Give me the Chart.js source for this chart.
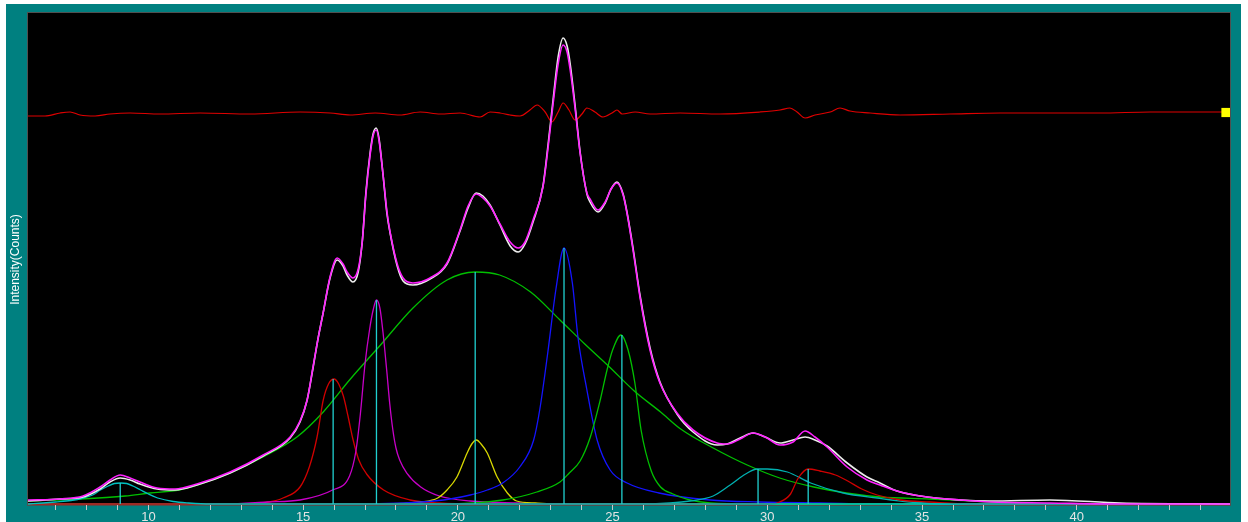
<!DOCTYPE html>
<html><head><meta charset="utf-8">
<script src="https://cdn.jsdelivr.net/npm/chart.js@4.4.1/dist/chart.umd.min.js"></script>
<style>html,body{margin:0;padding:0;background:#fff;overflow:hidden}#wrap{position:relative;width:1248px;height:522px}</style>
</head><body><div id="wrap"><canvas id="c" width="1248" height="522"></canvas></div>
<script>
// ---- axis range ----
const xRange = [6.11, 44.95];
const yRange = [-1, 491];
const xTickStep = 1;

// ---- observed / fit (2-theta vs intensity) ----
const totX = [6.11, 7.15, 7.89, 8.44, 8.76, 9.09, 9.41, 9.73, 10.28, 10.86, 11.57, 12.64, 13.71, 14.58, 14.90, 15.13, 15.32, 15.48, 15.64, 15.87, 16.10, 16.29, 16.42, 16.61, 16.78, 16.91, 17.03, 17.16, 17.26, 17.36, 17.45, 17.58, 17.71, 17.81, 18.04, 18.23, 18.55, 19.10, 19.65, 20.07, 20.33, 20.59, 20.81, 21.04, 21.36, 21.69, 21.95, 22.17, 22.43, 22.75, 22.91, 23.08, 23.24, 23.40, 23.53, 23.63, 23.79, 23.95, 24.17, 24.27, 24.53, 24.76, 24.95, 25.14, 25.34, 25.47, 25.66, 25.89, 26.21, 26.53, 27.08, 27.60, 28.38, 28.70, 29.12, 29.54, 29.93, 30.41, 30.83, 31.22, 31.54, 31.93, 32.58, 33.22, 33.64, 34.19, 35.16, 36.23, 37.20, 39.13, 41.40, 44.95];
const fitY = [4, 5, 8, 17, 24, 29, 26, 22, 16, 15, 20, 32, 49, 67, 83, 104, 137, 165, 190, 227, 246, 240, 232, 226, 235, 262, 310, 348, 368, 374, 364, 330, 292, 272, 240, 226, 221, 226, 241, 274, 298, 310, 306, 298, 280, 262, 256, 262, 284, 317, 355, 401, 440, 459, 452, 434, 395, 351, 311, 305, 294, 302, 315, 321, 309, 290, 254, 206, 154, 121, 91, 74, 61, 60, 65, 71, 67, 59, 62, 73, 67, 57, 37, 24, 19, 13, 7, 4, 2, 1, 0, 0];
const obsY = [3, 5, 7, 15, 22, 26, 24, 20, 15, 14, 19, 31, 48, 66, 82, 104, 136, 165, 190, 226, 244, 238, 229, 222, 232, 262, 312, 350, 370, 376, 366, 330, 290, 271, 238, 223, 219, 225, 240, 273, 296, 311, 308, 299, 279, 258, 252, 260, 282, 318, 358, 405, 447, 466, 458, 440, 398, 352, 310, 302, 292, 301, 315, 322, 310, 291, 256, 208, 156, 122, 90, 72, 59, 60, 66, 71, 67, 61, 64, 67, 64, 58, 41, 27, 21, 13, 7, 4, 3, 4, 1, 0];

// ---- residual (offset) ----
const resX = [6.11, 6.66, 7.15, 7.47, 7.79, 8.28, 8.76, 9.41, 10.38, 11.67, 13.29, 14.90, 15.87, 16.52, 17.33, 18.13, 18.78, 19.43, 20.07, 20.72, 21.04, 21.36, 21.69, 22.01, 22.33, 22.56, 22.82, 23.04, 23.24, 23.40, 23.59, 23.79, 24.01, 24.17, 24.43, 24.69, 24.98, 25.14, 25.31, 25.73, 26.21, 27.18, 28.47, 29.76, 30.41, 30.73, 30.96, 31.22, 31.54, 32.03, 32.35, 32.67, 33.32, 34.29, 35.90, 37.52, 40.75, 42.37, 43.98, 44.95];
const resY = [388, 388, 391, 392, 389, 388, 390, 391, 390, 391, 390, 392, 391, 389, 391, 389, 392, 390, 391, 387, 392, 391, 389, 388, 394, 399, 392, 382, 392, 401, 394, 384, 390, 396, 392, 387, 391, 394, 390, 392, 390, 391, 390, 392, 394, 396, 392, 386, 389, 392, 396, 393, 391, 389, 390, 391, 391, 392, 392, 392];
const markerPt = [44.82, 391.5];

// ---- fitted components ----
const c1X = [6.11, 6.6, 7.0, 7.5, 7.9, 8.2, 8.45, 8.7, 8.9, 9.1, 9.3, 9.5, 9.75, 10.0, 10.3, 10.8, 11.3, 12.0, 44.95];
const c1Y = [0, 1, 2, 3.5, 6, 9, 14, 18, 20.5, 21, 20.5, 18, 14, 10, 6, 2.5, 1, 0, 0];
const red1X = [6.11, 13.0, 13.9, 14.35, 14.9, 15.2, 15.45, 15.65, 15.82, 16.0, 16.15, 16.3, 16.45, 16.6, 16.8, 17.05, 17.6, 18.45, 19.4, 20.5, 44.95];
const red1Y = [0, 0, 2, 6, 17, 37, 67, 104, 120, 125, 120, 108, 88, 66, 44, 30, 14, 4, 1, 0, 0];
const magX = [6.11, 12.5, 13.85, 14.9, 15.95, 16.5, 16.7, 16.85, 17.0, 17.15, 17.27, 17.37, 17.48, 17.58, 17.7, 17.8, 17.9, 18.0, 18.12, 18.35, 18.8, 19.4, 20.4, 22.0, 23.0, 44.95];
const magY = [0, 0, 2, 4, 14, 28, 52, 90, 140, 175, 195, 204, 196, 172, 134, 100, 74, 56, 44, 31, 17, 8, 3, 1, 0, 0];
const broadX = [6.11, 7.8, 9.25, 10.05, 11.0, 11.7, 12.65, 13.7, 14.8, 15.65, 16.5, 17.5, 18.55, 19.65, 20.56, 21.35, 22.35, 23.3, 24.1, 24.9, 25.7, 26.55, 27.2, 28.25, 29.35, 30.4, 31.5, 32.55, 33.65, 35.25, 37.2, 39.1, 44.95];
const broadY = [3, 5, 8, 11, 14, 20, 31, 47, 67, 92, 124, 159, 196, 224, 232, 229, 212, 184, 160, 137, 113, 92, 75, 56, 39, 26, 17, 11, 7, 5, 2, 0, 0];
const yelX = [6.11, 17.5, 18.8, 19.35, 19.65, 19.97, 20.3, 20.45, 20.6, 20.75, 20.95, 21.27, 21.6, 21.9, 22.5, 23.5, 44.95];
const yelY = [0, 0, 2, 6, 14, 27, 51, 60, 64, 60, 51, 27, 11, 3, 1, 0, 0];
const blueX = [6.11, 16.5, 18.8, 19.75, 20.4, 20.95, 21.45, 22.0, 22.45, 22.65, 22.9, 23.17, 23.43, 23.7, 23.88, 24.17, 24.5, 24.92, 25.47, 26.5, 28.15, 29.75, 31.7, 34, 44.95];
const blueY = [0, 0, 2, 5, 9, 14, 21, 37, 64, 95, 150, 215, 256, 221, 167, 114, 64, 34, 21, 11, 4, 2, 1, 0, 0];
const grn2X = [6.11, 19.5, 21.45, 22.55, 23.3, 23.6, 23.95, 24.27, 24.6, 24.82, 25.0, 25.27, 25.5, 25.72, 25.92, 26.25, 26.55, 26.95, 27.5, 28.15, 29.5, 44.95];
const grn2Y = [0, 0, 4, 12, 22, 31, 43, 66, 104, 134, 154, 169, 154, 121, 74, 33, 17, 10, 4, 1, 0, 0];
const cyn2X = [6.11, 26.0, 26.85, 27.5, 28.25, 28.8, 29.3, 29.67, 30.0, 30.65, 31.4, 32.45, 33.55, 34.6, 35.9, 44.95];
const cyn2Y = [0, 0, 1, 3, 8, 19, 30, 35, 35, 32, 21, 11, 6, 2, 0, 0];
const red2X = [6.11, 30.1, 30.4, 30.75, 31.0, 31.32, 31.7, 32.2, 32.6, 33.05, 33.55, 34.3, 35.25, 36.55, 44.95];
const red2Y = [0, 0, 2, 10, 26, 35, 33, 29, 23, 15, 9, 4, 2, 0, 0];

// ---- peak position markers ----
const peakX = [9.09, 15.97, 17.37, 20.56, 23.43, 25.3, 29.7, 31.32];
const peakH = [21, 125, 204, 232, 256, 169, 35, 35];

const yTitle = 'Intensity(Counts)';

// ---------------------------------------------
const pts = (xs, ys) => xs.map((x, i) => ({x: x, y: ys[i]}));
function series(xs, ys, color, w) {
  return {data: pts(xs, ys), borderColor: color, borderWidth: w, pointRadius: 0,
          fill: false, cubicInterpolationMode: 'monotone'};
}
const markData = [];
peakX.forEach((x, i) => { markData.push({x: x, y: 0}, {x: x, y: peakH[i]}, {x: x, y: null}); });

const datasets = [
  {data: [{x: markerPt[0], y: markerPt[1]}], showLine: false, pointStyle: 'rect', pointRadius: 6.5,
   pointBackgroundColor: '#ffff00', pointBorderWidth: 0, borderColor: '#ffff00'},
  series(totX, fitY, '#ff22ff', 1.6),
  series(totX, obsY, '#ececec', 1.6),
  series(resX, resY, '#e00000', 1.2),
  {data: markData, borderColor: '#20d0d0', borderWidth: 1.3, pointRadius: 0, spanGaps: false, tension: 0},
  series(c1X, c1Y, '#00c0c0', 1.3),
  series(red2X, red2Y, '#d00000', 1.3),
  series(cyn2X, cyn2Y, '#00b0b0', 1.3),
  series(grn2X, grn2Y, '#00c000', 1.3),
  series(blueX, blueY, '#1414ff', 1.3),
  series(yelX, yelY, '#d8d800', 1.3),
  series(magX, magY, '#c800c8', 1.3),
  series(red1X, red1Y, '#d00000', 1.3),
  series(broadX, broadY, '#00c000', 1.3)
];

const frame = {
  id: 'frame',
  beforeDraw(chart) {
    const ctx = chart.ctx, a = chart.chartArea;
    ctx.save();
    ctx.fillStyle = '#ffffff'; ctx.fillRect(0, 0, chart.width, chart.height);
    ctx.fillStyle = '#008080'; ctx.fillRect(6, 4, 1235, 518);
    ctx.fillStyle = '#000000'; ctx.fillRect(a.left, a.top, a.right - a.left, a.bottom - a.top);
    ctx.strokeStyle = '#505050'; ctx.lineWidth = 1;
    ctx.strokeRect(a.left - 0.5, a.top - 0.5, a.right - a.left + 1, a.bottom - a.top + 1);
    ctx.translate(15.5, 259.5);
    ctx.rotate(-Math.PI / 2);
    ctx.fillStyle = '#ffffff';
    ctx.font = '12px "Liberation Sans", Arial, sans-serif';
    ctx.textAlign = 'center'; ctx.textBaseline = 'middle';
    ctx.fillText(yTitle, 0, 0);
    ctx.restore();
  }
};

new Chart(document.getElementById('c'), {
  type: 'line',
  data: {datasets: datasets},
  options: {
    responsive: false, animation: false, devicePixelRatio: 1,
    layout: {padding: {left: 28, right: 18, top: 13, bottom: 0}},
    plugins: {legend: {display: false}, tooltip: {enabled: false}},
    scales: {
      x: {type: 'linear', min: xRange[0], max: xRange[1], position: 'bottom',
          afterFit(s) { s.height = 17; },
          grid: {display: true, drawOnChartArea: false, drawTicks: true, tickLength: 5, tickColor: '#c8c8c8', tickWidth: 1},
          border: {display: false},
          ticks: {stepSize: xTickStep, autoSkip: false, maxRotation: 0, minRotation: 0, includeBounds: false, padding: 0,
                  color: '#e4e4e4', font: {family: '"Liberation Sans", Arial, sans-serif', size: 13},
                  callback: (v) => (Math.abs(v % 5) < 1e-9 ? String(v) : '')}},
      y: {display: false, min: yRange[0], max: yRange[1]}
    }
  },
  plugins: [frame]
});
</script></body></html>
